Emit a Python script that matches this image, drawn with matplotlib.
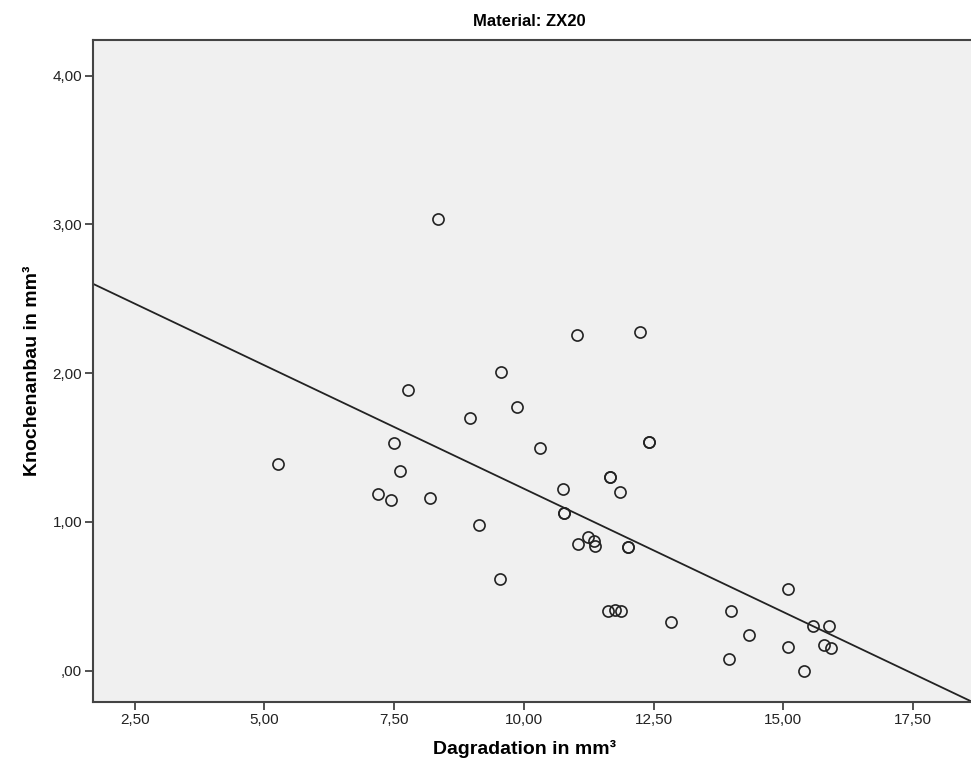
import numpy as np
import matplotlib
matplotlib.use("Agg")
import matplotlib.pyplot as plt
from matplotlib.ticker import FuncFormatter, FixedLocator

# Dagradation (x) and Knochenanbau (y)
dagradation = [5.27, 7.18, 7.44, 7.49, 7.61, 7.76, 8.20, 8.34, 8.97, 9.13,
               9.54, 9.56, 9.86, 10.32, 10.75, 10.77, 10.77, 11.03, 11.05,
               11.23, 11.36, 11.38, 11.63, 11.66, 11.66, 11.75, 11.85, 11.88,
               12.01, 12.01, 12.23, 12.42, 12.42, 12.84, 13.95, 13.99, 14.35,
               15.10, 15.10, 15.41, 15.57, 15.78, 15.89, 15.93]
knochenanbau = [1.39, 1.19, 1.15, 1.53, 1.34, 1.89, 1.16, 3.04, 1.70, 0.98,
                0.62, 2.01, 1.77, 1.50, 1.22, 1.06, 1.06, 2.26, 0.85,
                0.90, 0.87, 0.84, 0.40, 1.30, 1.30, 0.41, 1.20, 0.40,
                0.83, 0.83, 2.28, 1.54, 1.54, 0.33, 0.08, 0.40, 0.24,
                0.55, 0.16, 0.00, 0.30, 0.17, 0.30, 0.15]

# fit line as shown in the reference (SPSS linear fit)
fit_slope = -0.1658
fit_intercept = 2.882

x_ticks = [2.5, 5.0, 7.5, 10.0, 12.5, 15.0, 17.5]
y_ticks = [0.0, 1.0, 2.0, 3.0, 4.0]

title = "Material: ZX20"
x_label = "Dagradation in mm³"
y_label = "Knochenanbau in mm³"

x = np.array(dagradation)
y = np.array(knochenanbau)

plt.rcParams['font.family'] = ['Liberation Sans', 'DejaVu Sans']

fig = plt.figure(figsize=(9.71, 7.76), dpi=100)
ax = fig.add_axes([0.0961, 0.0954, 0.906, 0.853])
ax.set_facecolor('#f0f0f0')

xmin, xmax = 1.70, 18.66
ymin, ymax = -0.21, 4.24

line_x = np.array([xmin, xmax])
ax.plot(line_x, fit_intercept + fit_slope * line_x, color='#222222', lw=1.3, zorder=2)
ax.plot(x, y, linestyle='None', marker='o', ms=8, mfc='none',
        mec='#222222', mew=1.2, zorder=3)

ax.set_xlim(xmin, xmax)
ax.set_ylim(ymin, ymax)


def comma_fmt(v, pos):
    s = f"{v:.2f}".replace('.', ',')
    if s.startswith('0,'):
        s = s[1:]
    return s


ax.xaxis.set_major_locator(FixedLocator(x_ticks))
ax.yaxis.set_major_locator(FixedLocator(y_ticks))
ax.xaxis.set_major_formatter(FuncFormatter(comma_fmt))
ax.yaxis.set_major_formatter(FuncFormatter(comma_fmt))
ax.tick_params(axis='both', direction='out', length=6, width=1.2,
               color='#333333', labelsize=11, labelcolor='#222222', pad=2)

for side in ['left', 'bottom', 'top']:
    ax.spines[side].set_color('#444444')
    ax.spines[side].set_linewidth(1.5)
ax.spines['right'].set_visible(False)

ax.set_xlabel(x_label, fontsize=14, fontweight='bold')
ax.set_ylabel(y_label, fontsize=14, fontweight='bold')
ax.yaxis.set_label_coords(-0.06, 0.5)
ax.xaxis.set_label_coords(0.49, -0.057)
fig.text(0.545, 0.972, title, ha='center', va='center', fontsize=12, fontweight='bold')

fig.savefig('out.png', dpi=100)
